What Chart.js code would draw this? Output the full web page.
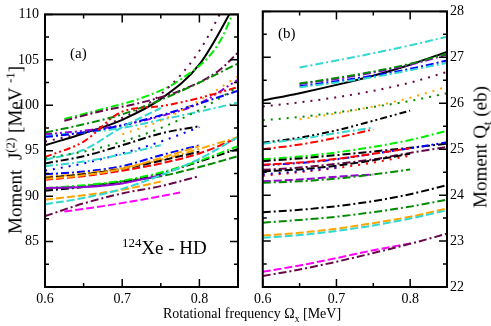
<!DOCTYPE html>
<html>
<head>
<meta charset="utf-8">
<script src="https://cdn.jsdelivr.net/npm/chart.js@4.4.1/dist/chart.umd.min.js"></script>
<style>
  html, body { margin: 0; padding: 0; background: #fff; }
  #wrap { position: relative; width: 491px; height: 326px; overflow: hidden;
          font-family: 'Liberation Serif', 'Times New Roman', serif; color: #000; }
  canvas { position: absolute; top: 0; }
  #left { left: 0; }
  #right { left: 250px; }
  .lbl { position: absolute; white-space: pre; line-height: 1; }
  .rot { transform: translate(-50%, -50%) rotate(-90deg); }
  sup, sub { font-size: 68%; line-height: 0; }
</style>
</head>
<body>
<div id="wrap">
  <canvas id="left" width="245" height="326"></canvas>
  <canvas id="right" width="241" height="326"></canvas>
  <div class="lbl rot" style="left:15px; top:150px; font-size:19px;">Moment  J<sup>(2)</sup> [MeV <sup>-1</sup>]</div>
  <div class="lbl rot" style="left:480px; top:147px; font-size:19px;">Moment Q<sub>t</sub> (eb)</div>
  <div class="lbl" style="left:163px; top:307px; font-size:14px;">Rotational frequency Ω<sub>x</sub> [MeV]</div>
  <div class="lbl" style="left:70px; top:46px; font-size:15px;">(a)</div>
  <div class="lbl" style="left:278px; top:26px; font-size:15px;">(b)</div>
  <div class="lbl" style="left:122px; top:238px; font-size:19px;"><sup>124</sup>Xe - HD</div>
</div>
<script>
// rotational frequency grids (MeV)
const OMEGA = [0.6, 0.65, 0.7, 0.75, 0.8, 0.85];
const OMEGA_LATE = [0.625, 0.675, 0.725, 0.775, 0.825, 0.85];

// axis ticks
const X_MAJOR = [0.6, 0.7, 0.8];
const X_MINOR = [0.65, 0.75];
const J2_LABELS = [85, 90, 95, 100, 105, 110];
const J2_MAJOR = [80, 85, 90, 95, 100, 105, 110];
const J2_MINOR = [82.5, 87.5, 92.5, 97.5, 102.5, 107.5];
const QT_LABELS = [22, 23, 24, 25, 26, 27, 28];
const QT_MINOR = [22.5, 23.5, 24.5, 25.5, 26.5, 27.5];

// (a) moment of inertia J(2), on OMEGA unless marked late
const J2_BLACK_SOLID   = [95.6, 96.9, 98.4, 100.7, 104.5, 111.7];
const J2_GREEN_DD      = [98.5, 99.6, 100.8, 102.8, 106.8, 111.5]; // late
const J2_MAROON_DOT    = [96.0, 97.0, 98.6, 101.2, 106.0, 114.0];
const J2_MAROON_DD     = [98.3, 99.4, 100.3, 101.6, 103.8, 105.8]; // late
const J2_DKGREEN_DD    = [97.0, 97.9, 99.0, 100.6, 102.5, 104.6];
const J2_CYAN_DD       = [96.7, 97.0, 97.5, 98.4, 99.3, 100.3];
const J2_VIOLET_DDD    = [96.8, 97.2, 97.8, 98.8, 100.2, 102.8];
const J2_BLUE_DD       = [96.5, 97.0, 97.8, 98.9, 100.2, 101.6];
const J2_ORANGE_DOT    = [null, null, 96.8, 98.3, 100.5, 103.2];
const J2_RED_DASH      = [94.3, 96.0, 99.3, 99.9, 100.8, 102.0];
const J2_CYAN_DASH     = [94.0, 95.1, 97.6, 99.7, null, null];
const J2_DKGREEN_DOT   = [94.2, 94.9, 96.0, 97.5, 99.5, 102.0];
const J2_BLACK_DD      = [93.6, 94.4, 95.6, 96.9, 97.7, null];
const J2_BLUE_DOT      = [92.8, 93.6, 94.7, 96.0, 97.6, null];
const J2_CYAN_DD2      = [93.3, 93.8, 94.6, 95.6, null, null];
const J2_BLUE_DD2      = [92.4, 92.7, 93.3, 94.5, 95.6, null];
const J2_ORANGE_DD     = [92.1, 92.5, 93.1, 94.0, 95.2, 96.5];
const J2_RED_DASH2     = [91.8, 92.2, 92.8, 93.6, 94.7, 96.4];
const J2_BLACK_DASH    = [92.0, 92.4, 93.0, 93.9, 94.9, null];
const J2_ORANGE_DASH   = [91.9, 92.3, 93.0, 94.2, 95.5, null];
const J2_DKGREEN_DASH  = [90.8, 91.1, 91.6, 92.2, 93.2, 94.4];
const J2_BLACK_DD2     = [90.6, 91.0, 91.6, 92.5, 93.8, 95.2];
const J2_GREEN_DD2     = [90.9, 91.2, 91.7, 92.6, 93.9, 95.5];
const J2_VIOLET_SOLID  = [90.9, 91.0, 91.4, 92.3, null, null];
const J2_ORANGE_DASH2  = [89.6, 90.1, 90.7, 91.6, null, null];
const J2_CYAN_DASH2    = [89.1, 89.8, 90.8, 92.3, 94.1, 96.5];
const J2_MAROON_DD2    = [87.8, 89.2, 90.3, 91.1, 92.2, null];
const J2_MAGENTA_DASH  = [88.3, 88.9, 89.6, 90.4, null, null]; // late

// (b) transition quadrupole moment Qt (eb)
const QT_TURQ_DD       = [null, 26.78, 26.93, 27.09, 27.26, 27.45];
const QT_BLACK_SOLID   = [26.06, 26.22, 26.40, 26.60, 26.84, 27.12];
const QT_VIOLET_DD     = [null, 26.42, 26.53, 26.67, 26.84, 27.06];
const QT_DKGREEN_DD    = [null, 26.43, 26.55, 26.69, 26.86, 27.08];
const QT_BLUE_DD       = [null, 26.37, 26.48, 26.60, 26.75, 26.93];
const QT_CYAN_DD       = [null, 26.35, 26.45, 26.57, 26.72, 26.88];
const QT_MAROON_DOT    = [25.93, 26.02, 26.13, 26.27, 26.45, 26.68];
const QT_ORANGE_DOT    = [null, 25.65, 25.78, 25.93, 26.12, 26.36];
const QT_DKGREEN_DOT   = [25.63, 25.70, 25.80, 25.92, 26.05, 26.22];
const QT_BLACK_DDD     = [25.14, 25.25, 25.41, 25.62, 25.84, null];
const QT_CYAN_DD2      = [25.12, 25.22, 25.35, 25.47, null, null];
const QT_RED_DD        = [25.00, 25.10, 25.25, 25.43, null, null];
const QT_GREEN_DD      = [24.78, 24.84, 24.93, 25.05, 25.20, 25.40];
const QT_BLACK_DD      = [24.74, 24.80, 24.87, 24.95, 25.03, 25.12];
const QT_BLUE_DDD      = [24.65, 24.70, 24.78, 24.90, 25.02, 25.15];
const QT_RED_DASH      = [24.66, 24.71, 24.79, 24.90, 25.02, null];
const QT_MAROON_DD     = [24.55, 24.60, 24.68, 24.78, 24.92, 25.05];
const QT_BLACK_DASH    = [24.52, 24.56, 24.64, 24.76, 24.90, null];
const QT_RED_DOT       = [24.42, 24.50, 24.59, 24.71, 24.86, null];
const QT_BLUE_DOT      = [24.45, 24.52, 24.60, null, null, null];
const QT_VIOLET_DASH   = [24.30, 24.34, 24.40, 24.45, null, null];
const QT_DKGREEN_DD2   = [24.27, 24.30, 24.36, 24.45, 24.56, null];
const QT_BLACK_DD2     = [23.63, 23.68, 23.76, 23.87, 24.02, 24.22];
const QT_DKGREEN_DD3   = [23.40, 23.46, 23.53, 23.63, 23.75, 23.90];
const QT_ORANGE_DASH   = [23.12, 23.18, 23.27, 23.39, 23.53, 23.71];
const QT_CYAN_DASH     = [23.07, 23.13, 23.22, 23.34, 23.49, 23.67];
const QT_MAGENTA_DASH  = [22.33, 22.47, 22.63, 22.80, 22.95, null];
const QT_MAROON_DD2    = [22.24, 22.38, 22.55, 22.74, 22.94, 23.16];

// colours and line styles
const C = {
  black: '#000000', red: '#ff0000', green: '#00ee00', blue: '#0000ff',
  magenta: '#ff00ff', cyan: '#30d8d0', orange: '#ffa500', dkgreen: '#008b00',
  violet: '#9400d3', maroon: '#670748'
};
const SOLID = [], DASH = [8, 3], DOT = [2, 6], DD = [8, 3, 2, 3], DDD = [7, 3, 2, 3, 2, 3];

const LEFT_SERIES = [
  [J2_MAGENTA_DASH, C.magenta, DASH, OMEGA_LATE],
  [J2_MAROON_DD2, C.maroon, DD],
  [J2_CYAN_DASH2, C.cyan, DASH],
  [J2_ORANGE_DASH2, C.orange, DASH],
  [J2_VIOLET_SOLID, C.violet, SOLID],
  [J2_GREEN_DD2, C.green, DD],
  [J2_BLACK_DD2, C.black, DD],
  [J2_DKGREEN_DASH, C.dkgreen, DASH],
  [J2_ORANGE_DASH, C.orange, DASH],
  [J2_BLACK_DASH, C.black, DASH],
  [J2_RED_DASH2, C.red, DASH],
  [J2_ORANGE_DD, C.orange, DD],
  [J2_BLUE_DD2, C.blue, DD],
  [J2_CYAN_DD2, C.cyan, DD],
  [J2_BLUE_DOT, C.blue, DOT],
  [J2_BLACK_DD, C.black, DD],
  [J2_DKGREEN_DOT, C.dkgreen, DOT],
  [J2_CYAN_DASH, C.cyan, DASH],
  [J2_RED_DASH, C.red, DDD],
  [J2_ORANGE_DOT, C.orange, DOT],
  [J2_BLUE_DD, C.blue, DD],
  [J2_VIOLET_DDD, C.violet, DDD],
  [J2_CYAN_DD, C.cyan, DD],
  [J2_DKGREEN_DD, C.dkgreen, DD],
  [J2_MAROON_DD, C.maroon, DD, OMEGA_LATE],
  [J2_MAROON_DOT, C.maroon, DOT],
  [J2_GREEN_DD, C.green, DD, OMEGA_LATE],
  [J2_BLACK_SOLID, C.black, SOLID]
];

const RIGHT_SERIES = [
  [QT_MAROON_DD2, C.maroon, DD],
  [QT_MAGENTA_DASH, C.magenta, DASH],
  [QT_CYAN_DASH, C.cyan, DASH],
  [QT_ORANGE_DASH, C.orange, DASH],
  [QT_DKGREEN_DD3, C.dkgreen, DD],
  [QT_BLACK_DD2, C.black, DD],
  [QT_DKGREEN_DD2, C.dkgreen, DD],
  [QT_VIOLET_DASH, C.violet, DASH],
  [QT_BLUE_DOT, C.blue, DOT],
  [QT_RED_DOT, C.red, DOT],
  [QT_BLACK_DASH, C.black, DASH],
  [QT_MAROON_DD, C.maroon, DD],
  [QT_RED_DASH, C.red, DASH],
  [QT_BLUE_DDD, C.blue, DDD],
  [QT_BLACK_DD, C.black, DD],
  [QT_GREEN_DD, C.green, DD],
  [QT_RED_DD, C.red, DD],
  [QT_CYAN_DD2, C.cyan, DD],
  [QT_BLACK_DDD, C.black, DDD],
  [QT_DKGREEN_DOT, C.dkgreen, DOT],
  [QT_ORANGE_DOT, C.orange, DOT],
  [QT_MAROON_DOT, C.maroon, DOT],
  [QT_CYAN_DD, C.cyan, DD],
  [QT_BLUE_DD, C.blue, DD],
  [QT_DKGREEN_DD, C.dkgreen, DD],
  [QT_VIOLET_DD, C.violet, DD],
  [QT_BLACK_SOLID, C.black, SOLID],
  [QT_TURQ_DD, C.cyan, DD]
];

function toDataset([values, color, dash, grid = OMEGA]) {
  return {
    data: values.map((v, i) => ({ x: grid[i], y: v })),
    borderColor: color,
    borderDash: dash,
    borderWidth: 2,
    pointRadius: 0,
    cubicInterpolationMode: 'monotone',
    spanGaps: false,
    clip: 0
  };
}

/** Frame with inward ticks on all four sides */
const framePlugin = {
  id: 'frame',
  afterDatasetsDraw(chart, args, opts) {
    const { ctx, chartArea: a, scales: { x, y } } = chart;
    ctx.save();
    ctx.strokeStyle = '#000';
    ctx.lineWidth = 1.5;
    ctx.beginPath();
    const tickX = (vals, len) => vals.forEach(v => {
      const px = x.getPixelForValue(v);
      ctx.moveTo(px, a.bottom); ctx.lineTo(px, a.bottom - len);
      ctx.moveTo(px, a.top); ctx.lineTo(px, a.top + len);
    });
    const tickY = (vals, len) => vals.forEach(v => {
      const py = y.getPixelForValue(v);
      ctx.moveTo(a.left, py); ctx.lineTo(a.left + len, py);
      ctx.moveTo(a.right, py); ctx.lineTo(a.right - len, py);
    });
    tickX(X_MAJOR, 8); tickX(X_MINOR, 4);
    tickY(opts.major, 8); tickY(opts.minor, 4);
    ctx.stroke();
    ctx.lineWidth = 2;
    ctx.strokeRect(a.left, a.top, a.right - a.left, a.bottom - a.top);
    ctx.restore();
  }
};

Chart.defaults.font.family = 'Liberation Serif';
const tickFont = { family: 'Liberation Serif', size: 14 };

function makeChart(id, series, yCfg) {
  return new Chart(document.getElementById(id), {
    type: 'line',
    data: { datasets: series.map(toDataset) },
    plugins: [framePlugin],
    options: {
      responsive: false,
      animation: false,
      events: [],
      layout: { padding: yCfg.padding },
      plugins: {
        legend: { display: false },
        tooltip: { enabled: false },
        frame: { major: yCfg.major, minor: yCfg.minor }
      },
      scales: {
        x: {
          type: 'linear', min: 0.6, max: 0.85,
          grid: { display: false, drawTicks: false },
          border: { display: false },
          ticks: { font: tickFont, color: '#000', padding: 4, maxRotation: 0,
                   callback: v => v.toFixed(1) },
          afterBuildTicks: s => { s.ticks = X_MAJOR.map(v => ({ value: v })); },
          afterFit: s => { s.height = 39; }
        },
        y: {
          type: 'linear', position: yCfg.position, min: yCfg.min, max: yCfg.max,
          grid: { display: false, drawTicks: false },
          border: { display: false },
          ticks: { font: tickFont, color: '#000', padding: yCfg.tickPad,
                   callback: v => String(v) },
          afterBuildTicks: s => { s.ticks = yCfg.labels.map(v => ({ value: v })); },
          afterFit: s => { s.width = yCfg.width; }
        }
      }
    }
  });
}

makeChart('left', LEFT_SERIES, {
  position: 'left', min: 80, max: 110, labels: J2_LABELS,
  major: J2_MAJOR, minor: J2_MINOR, width: 45, tickPad: 6,
  padding: { top: 6, right: 7 }
});

makeChart('right', RIGHT_SERIES, {
  position: 'right', min: 22, max: 28, labels: QT_LABELS,
  major: QT_LABELS, minor: QT_MINOR, width: 44, tickPad: 3,
  padding: { top: 6, left: 6 }
});
</script>
</body>
</html>
